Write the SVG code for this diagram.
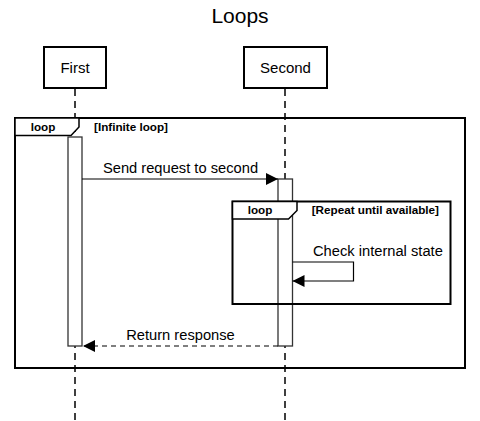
<svg xmlns="http://www.w3.org/2000/svg" width="480" height="421" viewBox="0 0 480 421">
<style>
text{font-family:"Liberation Sans",Arial,sans-serif;fill:#000}
.actor{fill:#fff;stroke:#000;stroke-width:2}
.life{stroke:#000;stroke-width:1.5;stroke-dasharray:7,5;fill:none}
.act{fill:#fff;stroke:#333;stroke-width:1.3}
.frame{fill:none;stroke:#000;stroke-width:2}
.lab{fill:#fff;stroke:#000;stroke-width:1.5}
.msg{stroke:#000;stroke-width:1.2;fill:none}
.ft{font-size:11.7px;font-weight:bold}
.mt{font-size:14.7px}
</style>
<defs>
<marker id="arr" viewBox="0 0 12 12" markerWidth="12" markerHeight="12" refX="12" refY="6" orient="auto" markerUnits="userSpaceOnUse">
<path d="M0,0 L12,6 L0,12 z" fill="#000"/>
</marker>
</defs>
<text x="240" y="23" font-size="21" text-anchor="middle">Loops</text>
<g id="lifelines">
<line class="life" x1="75" y1="89" x2="75" y2="421"/>
<line class="life" x1="285" y1="89" x2="285" y2="421"/>
</g>
<g id="First">
<rect class="actor" x="44" y="47" width="62" height="41"/>
<text x="75" y="73" font-size="15" text-anchor="middle">First</text>
</g>
<g id="Second">
<rect class="actor" x="244" y="47" width="83" height="41"/>
<text x="285.5" y="73" font-size="15" text-anchor="middle">Second</text>
</g>
<g id="loop-outer">
<rect class="frame" x="15" y="118" width="450" height="250"/>
<path class="lab" d="M15,118 L79,118 L79,127 L71,135.5 L15,135.5 Z"/>
<text class="ft" x="43" y="131" text-anchor="middle">loop</text>
<text class="ft" x="94" y="131">[Infinite loop]</text>
</g>
<g id="act-first">
<rect class="act" x="68" y="137" width="14" height="209"/>
</g>
<g id="act-second">
<rect class="act" x="278" y="179" width="14.5" height="167"/>
</g>
<g id="loop-inner">
<rect class="frame" x="232.5" y="201.5" width="218" height="102.5"/>
<path class="lab" d="M232.5,201.5 L297,201.5 L297,210.5 L288.5,219 L232.5,219 Z"/>
<text class="ft" x="260" y="214" text-anchor="middle">loop</text>
<text class="ft" x="439" y="214" text-anchor="end">[Repeat until available]</text>
</g>
<g id="connectors">
<line class="msg" x1="82" y1="179" x2="278" y2="179" marker-end="url(#arr)"/>
<text class="mt" x="180.5" y="173" text-anchor="middle">Send request to second</text>
<path class="msg" d="M292.5,262 L353.5,262 L353.5,281 L292.5,281" marker-end="url(#arr)"/>
<text class="mt" x="313" y="256">Check internal state</text>
<line class="msg" x1="278" y1="346" x2="83" y2="346" stroke-dasharray="5,4" marker-end="url(#arr)"/>
<text class="mt" x="180.5" y="340" text-anchor="middle">Return response</text>
</g>
</svg>
